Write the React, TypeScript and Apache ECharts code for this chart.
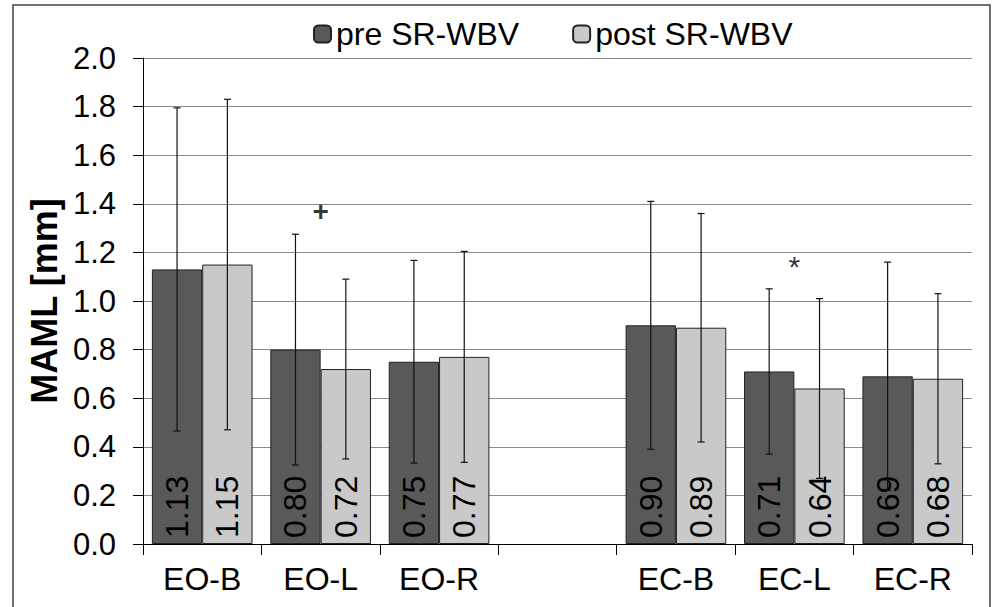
import React, { useEffect, useRef } from "react";
import * as echarts from "echarts";

const categories = ["EO-B", "EO-L", "EO-R", "", "EC-B", "EC-L", "EC-R"];
const preValues = [1.13, 0.8, 0.75, null, 0.9, 0.71, 0.69];
const postValues = [1.15, 0.72, 0.77, null, 0.89, 0.64, 0.68];
const preErrors = [0.665, 0.475, 0.417, null, 0.51, 0.34, 0.47];
const postErrors = [0.68, 0.37, 0.434, null, 0.47, 0.37, 0.35];
const markerCats = [1, 5];
const markerValues = [1.37, 1.14];
const markerTexts = ["+", "*"];
const seriesNames = ["pre SR-WBV", "post SR-WBV"];

const FONT = "'Liberation Sans', Arial, sans-serif";
const PRE_COLOR = "#595959";
const POST_COLOR = "#c9c9c9";
const GAP = 0.15;

function errData(vals: (number | null)[], errs: (number | null)[]) {
  const out: number[][] = [];
  vals.forEach((v, i) => {
    if (v != null && errs[i] != null) out.push([i, v, errs[i] as number]);
  });
  return out;
}

function errSeries(name: string, vals: (number | null)[], errs: (number | null)[], side: number) {
  return {
    type: "custom",
    name: name + " err",
    z: 5,
    silent: true,
    encode: { x: 0, y: 1 },
    data: errData(vals, errs),
    renderItem: (params: any, api: any) => {
      const idx = api.value(0);
      const v = api.value(1);
      const e = api.value(2);
      const top = api.coord([idx, v + e]);
      const bot = api.coord([idx, v - e]);
      const band = api.size([1, 0])[0];
      const bw = (band * (1 - GAP)) / 2;
      const x = top[0] + (side * bw) / 2;
      const cap = 3.5;
      const style = { stroke: "#111", lineWidth: 1.2 };
      return {
        type: "group",
        children: [
          { type: "line", shape: { x1: x, y1: top[1], x2: x, y2: bot[1] }, style },
          { type: "line", shape: { x1: x - cap, y1: top[1], x2: x + cap, y2: top[1] }, style },
          { type: "line", shape: { x1: x - cap, y1: bot[1], x2: x + cap, y2: bot[1] }, style },
        ],
      };
    },
  };
}

export default function App() {
  const ref = useRef<HTMLDivElement>(null);
  useEffect(() => {
    if (!ref.current) return;
    const chart = echarts.init(ref.current, null, { renderer: "svg" });
    const barLabel = {
      show: true,
      position: "insideBottom",
      rotate: 90,
      align: "left",
      verticalAlign: "middle",
      distance: 6,
      color: "#000",
      fontSize: 32,
      fontFamily: FONT,
      formatter: (p: any) => Number(p.value).toFixed(2),
    };
    chart.setOption({
      animation: false,
      backgroundColor: "#fff",
      textStyle: { fontFamily: FONT },
      graphic: [
        {
          type: "rect",
          shape: { x: 13, y: 5, width: 977, height: 640 },
          style: { fill: "none", stroke: "#444", lineWidth: 1.5 },
          silent: true,
          z: -1,
        },
      ],
      legend: {
        top: 13,
        left: 308,
        itemWidth: 17,
        itemHeight: 17,
        itemGap: 53,
        textStyle: { fontSize: 32, color: "#000", fontFamily: FONT },
        data: seriesNames,
      },
      grid: { left: 143, right: 26, top: 58, bottom: 63 },
      xAxis: {
        type: "category",
        data: categories,
        axisLine: { lineStyle: { color: "#000", width: 1 } },
        axisTick: { show: true, length: 11, lineStyle: { color: "#000" } },
        axisLabel: { color: "#000", fontSize: 32, fontFamily: FONT, margin: 19 },
      },
      yAxis: {
        type: "value",
        min: 0,
        max: 2,
        interval: 0.2,
        name: "MAML [mm]",
        nameLocation: "middle",
        nameGap: 81,
        nameTextStyle: { fontSize: 36, fontWeight: "bold", color: "#000", fontFamily: FONT },
        axisLine: { show: true, lineStyle: { color: "#000", width: 1 } },
        axisTick: { show: true, length: 10, lineStyle: { color: "#000" } },
        axisLabel: {
          color: "#000",
          fontSize: 31,
          fontFamily: FONT,
          margin: 27,
          formatter: (v: number) => v.toFixed(1),
        },
        splitLine: { show: true, lineStyle: { color: "#8a8a8a", width: 1 } },
      },
      series: [
        {
          type: "bar",
          name: seriesNames[0],
          data: preValues,
          barGap: "0%",
          barCategoryGap: "15%",
          itemStyle: { color: PRE_COLOR, borderColor: "#222", borderWidth: 1 },
          label: barLabel,
        },
        {
          type: "bar",
          name: seriesNames[1],
          data: postValues,
          barGap: "0%",
          barCategoryGap: "15%",
          itemStyle: { color: POST_COLOR, borderColor: "#222", borderWidth: 1 },
          label: barLabel,
        },
        errSeries(seriesNames[0], preValues, preErrors, -1),
        errSeries(seriesNames[1], postValues, postErrors, 1),
        {
          type: "scatter",
          name: "markers",
          symbolSize: 0,
          silent: true,
          z: 6,
          data: markerCats.map((c, i) => ({
            value: [c, markerValues[i], markerTexts[i]],
            label: markerTexts[i] === "+" ? { fontWeight: "bold", fontSize: 28 } : { fontSize: 30 },
          })),
          label: {
            show: true,
            position: "inside",
            color: "#000",
            fontSize: 28,
            fontFamily: FONT,
            formatter: (p: any) => p.value[2],
          },
        },
      ],
    });
    return () => chart.dispose();
  }, []);
  return (
    <div
      ref={ref}
      style={{ position: "fixed", left: 0, top: 0, width: 998, height: 607 }}
    />
  );
}
